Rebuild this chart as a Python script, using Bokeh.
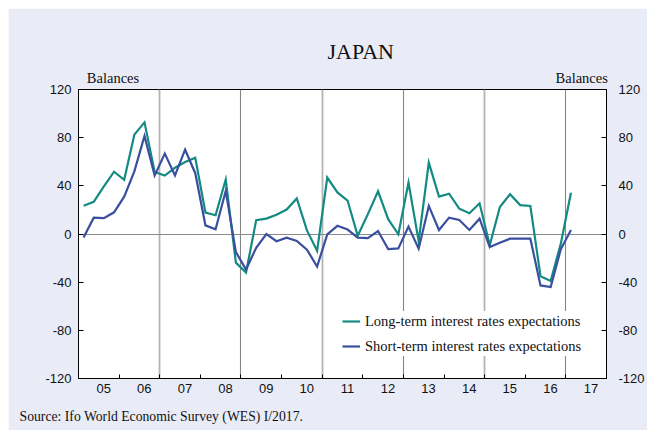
from bokeh.plotting import figure
from bokeh.models import (FixedTicker, Range1d, LinearAxis, Legend, LegendItem,
                          CustomJSTickFormatter, Grid, Title)
from bokeh.embed import file_html
from bokeh.resources import INLINE

# ---- data ----
quarters = [f"{y}Q{q}" for y in range(2005, 2018) for q in range(1, 5)][:49]

long_term = [23.5, 26.7, 39.5, 51.7, 45.0, 82.5, 92.7, 51.5,
             48.5, 55.0, 59.8, 63.3, 17.8, 15.6, 45.2, -23.8,
             -32.0, 11.5, 12.8, 16.0, 20.3, 29.5, 3.0, -14.0,
             46.9, 34.5, 27.8, -1.5, 16.5, 35.5, 12.3, -0.2,
             42.7, -6.0, 59.3, 31.0, 33.5, 21.0, 17.2, 25.5,
             -9.4, 22.4, 33.0, 24.0, 23.3, -35.0, -39.0, -8.0,
             34.3]

short_term = [-2.9, 13.5, 13.2, 18.0, 31.0, 52.0, 81.4, 48.5,
              66.8, 48.6, 70.0, 50.5, 7.2, 3.9, 35.8, -15.0,
              -29.5, -11.4, 0.0, -6.0, -3.0, -5.7, -13.0, -27.0,
              -0.3, 6.8, 3.7, -3.0, -3.5, 2.5, -12.5, -12.0,
              6.1, -12.2, 23.3, 3.3, 13.6, 11.6, 3.3, 12.7,
              -10.8, -7.2, -3.9, -3.9, -3.9, -42.7, -44.0, -12.7,
              3.3]

year_labels = ["05", "06", "07", "08", "09", "10", "11", "12",
               "13", "14", "15", "16", "17"]
y_ticks = [-120, -80, -40, 0, 40, 80, 120]
grid_years_light = [2007, 2011, 2015]
grid_years_dark = [2009, 2013, 2017]
unit_labels = ["Balances", "Balances"]
unit_label_pos = [2005.85, 2017.39]

series_names = ["Long-term interest rates expectations",
                "Short-term interest rates expectations"]
title_text = "JAPAN"
source_labels = ["Source: Ifo World Economic Survey (WES) I/2017."]
source_pos = [2007.04]

# ---- positions derived from categories ----
x = [int(s[:4]) + (int(s[5]) - 1) / 4 + 0.125 for s in quarters]
first_year = 2005
label_pos = [first_year + i + 0.62 for i in range(len(year_labels))]
year_bounds = [first_year + i for i in range(1, len(year_labels))]

TEAL = "#138a82"
BLUE = "#3a4f9f"
BG = "#e9ecf7"
SERIF = "Liberation Serif"
SANS = "Liberation Sans"
INK = "#111111"

p = figure(frame_width=528, frame_height=289,
           x_range=Range1d(2005, 2018), y_range=Range1d(-120, 120),
           x_axis_type=None, y_axis_type=None,
           output_backend="svg", toolbar_location=None,
           min_border_left=70, min_border_right=41,
           min_border_top=81, min_border_bottom=52,
           background_fill_color="white", border_fill_color=BG,
           outline_line_color="black", outline_line_width=1,
           margin=(8, 0, 0, 8))

# grids
p.add_layout(Grid(dimension=0, ticker=FixedTicker(ticks=grid_years_light),
                  grid_line_color="#b4b4b4", grid_line_width=1.8))
p.add_layout(Grid(dimension=0, ticker=FixedTicker(ticks=grid_years_dark),
                  grid_line_color="#858585", grid_line_width=1.1))
p.add_layout(Grid(dimension=1, ticker=FixedTicker(ticks=[0]),
                  grid_line_color="#8a8a8a", grid_line_width=1.2))

# bottom axis
xaxis = LinearAxis(
    ticker=FixedTicker(ticks=label_pos, minor_ticks=year_bounds),
    formatter=CustomJSTickFormatter(args=dict(labels=year_labels),
                                    code="return labels[Math.round(tick - 2005.62)];"),
    major_tick_in=0, major_tick_out=0, major_tick_line_color=None,
    minor_tick_in=4, minor_tick_out=0, minor_tick_line_color="black",
    axis_line_color="black",
    major_label_text_font=SANS, major_label_text_font_size="13px",
    major_label_text_color=INK, major_label_standoff=5)
p.add_layout(xaxis, "below")

# source note as a label-only axis under the year axis
src_axis = LinearAxis(
    ticker=FixedTicker(ticks=source_pos),
    formatter=CustomJSTickFormatter(args=dict(labels=source_labels),
                                    code="return labels[index];"),
    major_tick_in=0, major_tick_out=0, major_tick_line_color=None,
    minor_tick_line_color=None, axis_line_color=None,
    major_label_text_font=SERIF, major_label_text_font_size="13.7px",
    major_label_text_color=INK, major_label_standoff=13)
p.add_layout(src_axis, "below")

# "Balances" labels above the frame via an extra top axis
top_axis = LinearAxis(
    ticker=FixedTicker(ticks=unit_label_pos),
    formatter=CustomJSTickFormatter(args=dict(labels=unit_labels),
                                    code="return labels[index];"),
    major_tick_in=0, major_tick_out=0, major_tick_line_color=None,
    minor_tick_line_color=None, axis_line_color=None,
    major_label_text_font=SERIF, major_label_text_font_size="14.5px",
    major_label_text_color=INK, major_label_standoff=4)
p.add_layout(top_axis, "above")

for side, standoff in (("left", 7), ("right", 12)):
    ax = LinearAxis(
        ticker=FixedTicker(ticks=y_ticks),
        formatter=CustomJSTickFormatter(code="return String(tick);"),
        major_tick_in=5, major_tick_out=0, major_tick_line_color="black",
        minor_tick_line_color=None, axis_line_color="black",
        major_label_text_font=SANS, major_label_text_font_size="13px",
        major_label_text_color=INK, major_label_standoff=standoff)
    p.add_layout(ax, side)

r1 = p.line(x, long_term, line_color=TEAL, line_width=2.2, line_join="miter")
r2 = p.line(x, short_term, line_color=BLUE, line_width=2.2, line_join="miter")

legend = Legend(items=[LegendItem(label=series_names[0], renderers=[r1]),
                       LegendItem(label=series_names[1], renderers=[r2])],
                location=(264, 22), orientation="vertical",
                label_text_font=SERIF, label_text_font_size="14.5px",
                label_text_color=INK,
                glyph_width=18, glyph_height=20, label_height=20,
                label_standoff=5, spacing=5, padding=6, margin=0,
                border_line_color=None, background_fill_color="white",
                background_fill_alpha=1.0)
p.add_layout(legend)

p.add_layout(Title(text=title_text, align="left", offset=249,
                   text_font=SERIF, text_font_size="22px",
                   text_font_style="normal", text_color=INK, standoff=6), "above")

open("out.html", "w").write(file_html(p, INLINE))
